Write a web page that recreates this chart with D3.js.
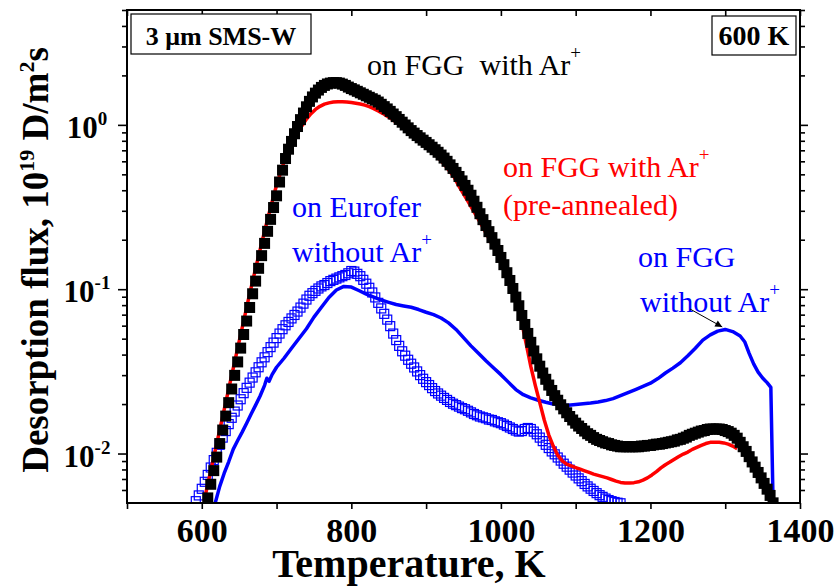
<!DOCTYPE html>
<html>
<head>
<meta charset="utf-8">
<script src="https://cdn.jsdelivr.net/npm/d3@7"></script>
<style>
  html, body { margin: 0; padding: 0; background: #fff; }
  svg { display: block; }
  text { font-family: "Liberation Serif", "Times New Roman", serif; }
</style>
</head>
<body>
<svg id="chart" width="837" height="587"></svg>
<script>
// ---- Thermal desorption spectra, D flux vs temperature (600 K implantation) ----

// FGG with Ar+ (filled squares)
const fggArTemp = [608,612,616,620,624,628,632,636,640,644,648,652,656,660,664,668,672,676,680,684,688,692,696,700,
  704,708,712,716,720,724,728,732,736,740,744,748,752,756,760,764,768,772,776,780,784,788,792,796,800,
  804,808,812,816,820,824,828,832,836,840,844,848,852,856,860,864,868,872,876,880,884,888,892,896,900,
  904,908,912,916,920,924,928,932,936,940,944,948,952,956,960,964,968,972,976,980,984,988,992,996,1000,
  1004,1008,1012,1016,1020,1024,1028,1032,1036,1040,1044,1048,1052,1056,1060,1064,1068,1072,1076,1080,
  1084,1088,1092,1096,1100,1104,1108,1112,1116,1120,1124,1128,1132,1136,1140,1144,1148,1152,1156,1160,
  1164,1168,1172,1176,1180,1184,1188,1192,1196,1200,1204,1208,1212,1216,1220,1224,1228,1232,1236,1240,
  1244,1248,1252,1256,1260,1264,1268,1272,1276,1280,1284,1288,1292,1296,1300,1304,1308,1312,1316,1320,
  1324,1328,1332,1336,1340,1344,1348,1352,1356,1360,1364];
const fggArFlux = [0.00537,0.00650,0.00787,0.00951,0.0115,0.0139,0.0169,0.0204,0.0247,0.0299,0.0361,0.0438,0.0530,0.0640,0.0774,0.0938,0.112,0.134,0.160,0.190,0.225,0.266,0.314,0.370,
  0.449,0.530,0.624,0.711,0.793,0.883,0.977,1.076,1.180,1.288,1.390,1.479,1.560,1.629,1.690,1.738,1.774,1.795,1.807,1.807,1.795,1.770,1.738,1.698,1.663,
  1.633,1.600,1.567,1.535,1.503,1.472,1.442,1.413,1.377,1.334,1.291,1.250,1.208,1.164,1.122,1.079,1.038,0.998,0.959,0.923,0.891,0.861,0.834,0.807,0.782,
  0.757,0.731,0.706,0.681,0.655,0.628,0.600,0.571,0.543,0.514,0.485,0.456,0.428,0.400,0.373,0.343,0.315,0.288,0.265,0.244,0.224,0.206,0.188,0.172,0.156,
  0.141,0.126,0.113,0.101,0.0895,0.0793,0.0692,0.0610,0.0538,0.0475,0.0421,0.0377,0.0340,0.0309,0.0283,0.0261,0.0242,0.0225,0.0211,0.0198,
  0.0187,0.0177,0.0168,0.0160,0.0153,0.0147,0.0142,0.0137,0.0132,0.0129,0.0125,0.0122,0.0120,0.0118,0.0116,0.0115,0.0113,0.0112,0.0111,0.0110,
  0.0110,0.0110,0.0110,0.0110,0.0110,0.0110,0.0111,0.0111,0.0112,0.0112,0.0113,0.0114,0.0114,0.0115,0.0116,0.0117,0.0118,0.0119,0.0121,0.0122,
  0.0124,0.0126,0.0129,0.0131,0.0133,0.0135,0.0137,0.0138,0.0140,0.0141,0.0141,0.0141,0.0141,0.0140,0.0138,0.0136,0.0133,0.0129,0.0124,0.0117,
  0.0110,0.0103,0.00957,0.00889,0.00826,0.00767,0.00711,0.00658,0.00607,0.00556,0.00501];

// FGG with Ar+, pre-annealed (red line)
const fggAnnTemp = [603,608,614,620,626,632,638,644,650,656,662,668,674,680,686,692,698,704,710,716,722,728,734,740,746,752,758,764,770,776,782,788,794,800,
  806,812,818,824,830,836,842,848,854,860,866,872,878,884,890,896,902,908,914,920,926,932,938,944,950,956,962,968,974,980,986,992,998,1004,1010,1016,
  1022,1028,1034,1040,1046,1052,1058,1064,1070,1076,1082,1088,1094,1100,1106,1112,1118,1124,1130,1136,1142,1148,1154,1160,1166,1172,1178,1184,1190,1196,
  1202,1208,1214,1220,1226,1232,1238,1244,1250,1256,1262,1268,1274,1280,1286,1292,1298,1304,1310,1316];
const fggAnnFlux = [0.00513,0.00650,0.00865,0.0115,0.0153,0.0204,0.0272,0.0361,0.0481,0.0640,0.0853,0.112,0.146,0.190,0.245,0.314,0.398,0.490,0.596,0.692,0.794,0.891,0.989,1.084,1.169,1.242,1.297,1.337,1.361,1.377,1.384,1.384,1.377,1.368,
  1.355,1.340,1.318,1.291,1.256,1.216,1.175,1.130,1.084,1.038,0.991,0.944,0.900,0.857,0.817,0.776,0.733,0.692,0.649,0.605,0.562,0.519,0.476,0.422,0.380,0.342,0.307,0.275,0.247,0.220,0.196,0.174,0.153,0.134,0.117,0.101,
  0.0822,0.0624,0.0462,0.0339,0.0260,0.0204,0.0160,0.0130,0.0111,0.00977,0.00902,0.00861,0.00841,0.00822,0.00804,0.00785,0.00767,0.00750,0.00736,0.00723,0.00711,0.00695,0.00679,0.00667,0.00661,0.00661,0.00665,0.00673,0.00689,0.00711,
  0.00741,0.00776,0.00817,0.00855,0.00887,0.00923,0.00959,0.00993,0.0102,0.0106,0.0109,0.0112,0.0115,0.0117,0.0117,0.0117,0.0116,0.0114,0.0111,0.0107];

// FGG without Ar+ (blue line)
const fggNoArTemp = [618,624,630,636,642,648,654,660,666,672,678,684,687,690,694,700,710,720,730,740,750,760,770,780,790,800,810,820,830,840,850,860,870,880,890,900,
  910,920,930,940,950,960,970,980,990,1000,1010,1020,1030,1040,1050,1060,1070,1080,1090,1100,1110,1120,1130,1140,1150,1160,1170,1180,1190,1200,
  1210,1220,1230,1240,1250,1260,1270,1280,1290,1300,1310,1320,1326,1332,1338,1344,1350,1356,1361,1364];
const fggNoArFlux = [0.00501,0.00631,0.00759,0.00891,0.0106,0.0120,0.0135,0.0153,0.0174,0.0197,0.0224,0.0260,0.0287,0.0275,0.0302,0.0335,0.0380,0.0437,0.0501,0.0575,0.0676,0.0776,0.0891,0.0989,0.104,0.103,0.0982,0.0933,0.0895,0.0859,0.0832,0.0807,0.0791,0.0776,0.0752,0.0724,
  0.0700,0.0668,0.0624,0.0569,0.0507,0.0452,0.0407,0.0367,0.0333,0.0302,0.0272,0.0245,0.0228,0.0218,0.0211,0.0205,0.0200,0.0197,0.0197,0.0199,0.0201,0.0203,0.0206,0.0210,0.0216,0.0225,0.0235,0.0245,0.0256,0.0268,
  0.0286,0.0309,0.0331,0.0357,0.0394,0.0437,0.0490,0.0527,0.0556,0.0569,0.0552,0.0519,0.0479,0.0407,0.0351,0.0313,0.0288,0.0270,0.0253,0.005];

// Eurofer without Ar+ (open squares)
const eurTemp = [592,596,600,604,608,612,616,620,624,628,632,636,640,644,648,652,656,660,664,668,672,676,680,684,688,692,696,700,704,708,712,716,720,724,728,732,736,740,744,748,
  752,756,760,764,768,772,776,780,784,788,792,796,800,804,808,812,816,820,824,828,832,836,840,844,848,852,856,860,864,868,872,876,880,884,888,892,896,900,
  904,908,912,916,920,924,928,932,936,940,944,948,952,956,960,964,968,972,976,980,984,988,992,996,1000,1004,1008,1012,1016,1020,1024,1028,1032,1036,1040,
  1044,1048,1052,1056,1060,1064,1068,1072,1076,1080,1084,1088,1092,1096,1100,1104,1108,1112,1116,1120,1124,1128,1132,1136,1140,1144,1148,1152,1156,1160];
const eurFlux = [0.00513,0.00556,0.00610,0.00673,0.00741,0.00822,0.00912,0.0101,0.0113,0.0125,0.0137,0.0151,0.0165,0.0180,0.0196,0.0214,0.0233,0.0251,0.0270,0.0290,0.0312,0.0335,0.0359,0.0385,0.0414,0.0444,0.0473,0.0504,0.0537,0.0571,0.0603,0.0632,0.0664,0.0697,0.0731,0.0773,0.0817,0.0865,0.0912,0.0946,
  0.0977,0.101,0.104,0.106,0.109,0.112,0.114,0.116,0.118,0.120,0.122,0.125,0.129,0.128,0.124,0.120,0.114,0.108,0.102,0.0955,0.0891,0.0826,0.0764,0.0708,0.0653,0.0596,0.0537,0.0490,0.0452,0.0419,0.0394,0.0372,0.0352,0.0334,0.0316,0.0300,0.0285,0.0272,
  0.0261,0.0250,0.0240,0.0232,0.0225,0.0218,0.0212,0.0206,0.0201,0.0197,0.0193,0.0189,0.0186,0.0182,0.0178,0.0174,0.0171,0.0168,0.0166,0.0164,0.0161,0.0160,0.0157,0.0155,0.0153,0.0150,0.0147,0.0144,0.0141,0.0138,0.0136,0.0137,0.0141,0.0143,0.0141,
  0.0136,0.0131,0.0125,0.0119,0.0113,0.0108,0.0103,0.00989,0.00946,0.00906,0.00867,0.00832,0.00798,0.00766,0.00735,0.00706,0.00679,0.00653,0.00631,0.00611,0.00592,0.00574,0.00558,0.00545,0.00532,0.00521,0.00513,0.00507,0.00502,0.00498];

// Axis ticks and labels
const xTickValues = [500,600,700,800,900,1000,1100,1200,1300,1400];
const xLabelValues = [600,800,1000,1200,1400];
const yMajorValues = [0.01,0.1,1];
const yMinorValues = [0.006,0.007,0.008,0.009,0.02,0.03,0.04,0.05,0.06,0.07,0.08,0.09,0.2,0.3,0.4,0.5,0.6,0.7,0.8,0.9,2,3,4,5];
const yLabelExponents = ["-2","-1","0"];

const svg = d3.select("#chart");
const plot = { left: 127, right: 800, top: 10, bottom: 503 };

const x = d3.scaleLinear().domain([500, 1400]).range([plot.left, plot.right]);
const y = d3.scaleLog().domain([0.005, 5]).range([plot.bottom, plot.top]);

svg.append("defs").append("clipPath").attr("id", "plotClip")
  .append("rect")
  .attr("x", plot.left).attr("y", plot.top)
  .attr("width", plot.right - plot.left).attr("height", plot.bottom - plot.top);

const zip = (ts, vs) => ts.map((t, i) => ({ t, v: vs[i] }));
const eurData = zip(eurTemp, eurFlux);
const noArData = zip(fggNoArTemp, fggNoArFlux);
const annData = zip(fggAnnTemp, fggAnnFlux);
const arData = zip(fggArTemp, fggArFlux);

const layer = svg.append("g").attr("clip-path", "url(#plotClip)");
const line = d3.line().x(d => x(d.t)).y(d => y(d.v));

// Eurofer: open squares
const eurSize = 9;
layer.append("g").selectAll("rect").data(eurData).join("rect")
  .attr("x", d => x(d.t) - eurSize / 2).attr("y", d => y(d.v) - eurSize / 2)
  .attr("width", eurSize).attr("height", eurSize)
  .attr("fill", "none").attr("stroke", "#0000ff").attr("stroke-width", 1.2);

// FGG without Ar+
layer.append("path").datum(noArData).attr("d", line)
  .attr("fill", "none").attr("stroke", "#0000ff").attr("stroke-width", 3.5)
  .attr("stroke-linejoin", "round");

// FGG with Ar+, pre-annealed
layer.append("path").datum(annData).attr("d", line)
  .attr("fill", "none").attr("stroke", "#ff0000").attr("stroke-width", 3.5)
  .attr("stroke-linejoin", "round");

// FGG with Ar+: filled squares
const arSize = 11;
layer.append("g").selectAll("rect").data(arData).join("rect")
  .attr("x", d => x(d.t) - arSize / 2).attr("y", d => y(d.v) - arSize / 2)
  .attr("width", arSize).attr("height", arSize)
  .attr("fill", "#000");

// ---- axes ----
function styleAxis(g) {
  g.select(".domain").remove();
  g.selectAll(".tick line").attr("stroke", "#000").attr("stroke-width", 1.6);
}

svg.append("g").attr("transform", `translate(0,${plot.bottom})`)
  .call(d3.axisBottom(x).tickValues(xTickValues).tickSize(6)
    .tickFormat(d => xLabelValues.includes(d) ? d : ""))
  .call(styleAxis)
  .call(g => g.selectAll("text")
    .attr("y", 39).attr("dy", 0)
    .attr("font-size", 34).attr("font-weight", "bold")
    .attr("font-family", "'Liberation Serif','Times New Roman',serif").attr("fill", "#000"));

svg.append("g").attr("transform", `translate(0,${plot.top})`)
  .call(d3.axisBottom(x).tickValues(xTickValues).tickSize(6).tickFormat(""))
  .call(styleAxis);

svg.append("g").attr("transform", `translate(${plot.left},0)`)
  .call(d3.axisLeft(y).tickValues(yMajorValues).tickSize(9).tickFormat(""))
  .call(styleAxis);
svg.append("g").attr("transform", `translate(${plot.left},0)`)
  .call(d3.axisLeft(y).tickValues(yMinorValues).tickSize(5).tickFormat(""))
  .call(styleAxis);
svg.append("g").attr("transform", `translate(${plot.right},0)`)
  .call(d3.axisLeft(y).tickValues(yMajorValues).tickSize(-8).tickFormat(""))
  .call(styleAxis);
svg.append("g").attr("transform", `translate(${plot.right},0)`)
  .call(d3.axisLeft(y).tickValues(yMinorValues).tickSize(-5).tickFormat(""))
  .call(styleAxis);

// frame
svg.append("rect")
  .attr("x", plot.left).attr("y", plot.top)
  .attr("width", plot.right - plot.left).attr("height", plot.bottom - plot.top)
  .attr("fill", "none").attr("stroke", "#000").attr("stroke-width", 2);

// y tick labels: 10^n
yMajorValues.forEach((v, i) => {
  const t = svg.append("text")
    .attr("x", 87).attr("y", y(v) + 13)
    .attr("text-anchor", "middle")
    .attr("font-weight", "bold").attr("font-size", 31).attr("fill", "#000");
  t.append("tspan").text("10");
  t.append("tspan").attr("dy", -13).attr("font-size", 19).text(yLabelExponents[i]);
});

// axis titles
svg.append("text")
  .attr("x", 409).attr("y", 577)
  .attr("text-anchor", "middle")
  .attr("font-weight", "bold").attr("font-size", 40).attr("fill", "#000")
  .text("Temperature, K");

const yTitle = svg.append("text")
  .attr("transform", "translate(48,260) rotate(-90)")
  .attr("text-anchor", "middle")
  .attr("font-weight", "bold").attr("font-size", 37).attr("fill", "#000");
yTitle.append("tspan").text("Desorption flux, 10");
yTitle.append("tspan").attr("dy", -14).attr("font-size", 22).text("19");
yTitle.append("tspan").attr("dy", 14).text(" D/m");
yTitle.append("tspan").attr("dy", -14).attr("font-size", 22).text("2");
yTitle.append("tspan").attr("dy", 14).text("s");

// boxed labels
svg.append("rect").attr("x", 131).attr("y", 14).attr("width", 180).attr("height", 40)
  .attr("fill", "#fff").attr("stroke", "#000").attr("stroke-width", 1.2);
svg.append("text").attr("x", 221).attr("y", 45).attr("text-anchor", "middle")
  .attr("font-weight", "bold").attr("font-size", 26).attr("fill", "#000")
  .text("3 \u03bcm SMS-W");

svg.append("rect").attr("x", 712).attr("y", 16).attr("width", 84).attr("height", 39)
  .attr("fill", "#fff").attr("stroke", "#000").attr("stroke-width", 1.2);
svg.append("text").attr("x", 754).attr("y", 45).attr("text-anchor", "middle")
  .attr("font-weight", "bold").attr("font-size", 28).attr("fill", "#000")
  .text("600 K");

// curve annotations
function note(xp, yp, color, main, sup) {
  const t = svg.append("text").attr("x", xp).attr("y", yp)
    .attr("font-size", 30).attr("fill", color).style("white-space", "pre");
  t.append("tspan").text(main);
  if (sup) t.append("tspan").attr("dy", -16).attr("font-size", 19).text(sup);
}
note(367, 75, "#000", "on FGG  with Ar", "+");
note(503, 177, "#ff0000", "on FGG with Ar", "+");
note(503, 215, "#ff0000", "(pre-annealed)");
note(292, 217, "#0000ff", "on Eurofer");
note(292, 262, "#0000ff", "without Ar", "+");
note(638, 267, "#0000ff", "on FGG");
note(640, 312, "#0000ff", "without Ar", "+");

// arrow to the high-temperature peak
svg.append("defs").append("marker")
  .attr("id", "arrowHead").attr("viewBox", "0 0 10 10")
  .attr("refX", 10).attr("refY", 5)
  .attr("markerWidth", 9).attr("markerHeight", 7)
  .attr("markerUnits", "userSpaceOnUse")
  .attr("orient", "auto")
  .append("path").attr("d", "M0,0L10,5L0,10z").attr("fill", "#000");
svg.append("line")
  .attr("x1", 690).attr("y1", 309).attr("x2", x(1296)).attr("y2", y(0.0565) - 3)
  .attr("stroke", "#000").attr("stroke-width", 1)
  .attr("marker-end", "url(#arrowHead)");
</script>
</body>
</html>
